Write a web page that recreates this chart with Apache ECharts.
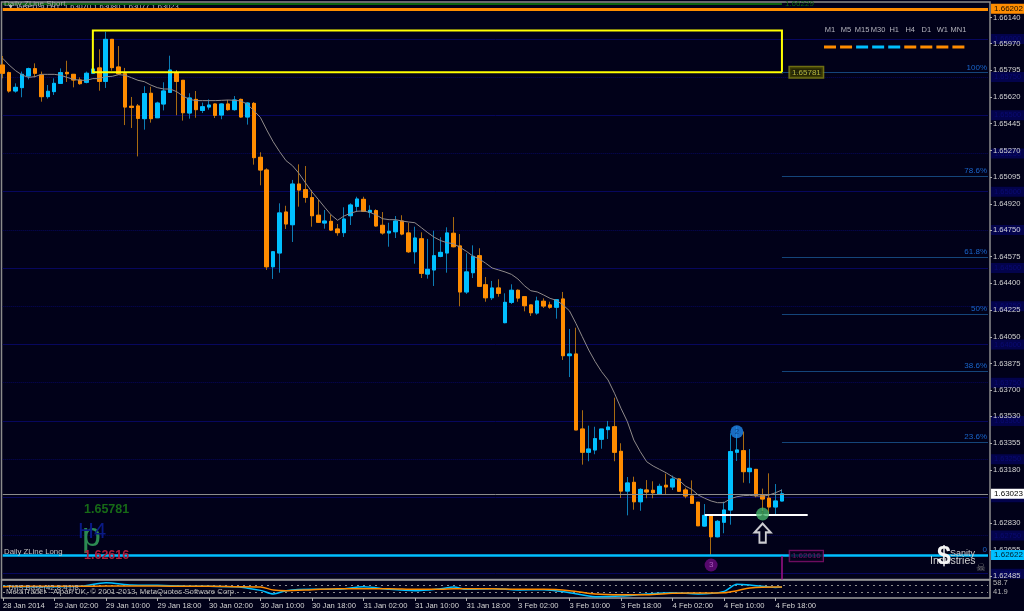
<!DOCTYPE html>
<html>
<head>
<meta charset="utf-8">
<style>html,body{margin:0;padding:0;background:#010119}#c{width:1024px;height:611px}</style>
<script src="https://cdn.jsdelivr.net/npm/echarts@6/dist/echarts.min.js"></script>
</head>
<body>
<div id="c"></div>
<script>
const axisLabels = ['28 Jan 2014','29 Jan 02:00','29 Jan 10:00','29 Jan 18:00','30 Jan 02:00','30 Jan 10:00','30 Jan 18:00','31 Jan 02:00','31 Jan 10:00','31 Jan 18:00','3 Feb 02:00','3 Feb 10:00','3 Feb 18:00','4 Feb 02:00','4 Feb 10:00','4 Feb 18:00'];
const opens = [1.65829,1.65779,1.65659,1.65681,1.65757,1.65805,1.65764,1.65622,1.65655,1.65709,
1.65781,1.65768,1.65731,1.65716,1.65775,1.65810,1.65722,1.65997,1.65816,1.65772,
1.65559,1.65561,1.65478,1.65644,1.65484,1.65574,1.65650,1.65779,1.65729,1.65515,
1.65604,1.65532,1.65554,1.65574,1.65502,1.65574,1.65537,1.65604,1.65489,1.65578,
1.65225,1.65142,1.64509,1.64599,1.64867,1.64784,1.65050,1.65013,1.64961,1.64846,
1.64795,1.64806,1.64756,1.64732,1.64843,1.64904,1.64950,1.64865,1.64876,1.64780,
1.64730,1.64738,1.64808,1.64730,1.64607,1.64692,1.64461,1.64488,1.64577,1.64599,
1.64728,1.64645,1.64344,1.64470,1.64581,1.64391,1.64306,1.64370,1.64143,1.64276,
1.64355,1.64313,1.64259,1.64206,1.64283,1.64259,1.64244,1.64298,1.63927,1.63938,
1.63447,1.63295,1.63310,1.63380,1.63443,1.63462,1.63301,1.63041,1.63098,1.62971,
1.63048,1.63046,1.63020,1.63079,1.63068,1.63120,1.63048,1.63009,1.62968,1.62812,
1.62882,1.62742,1.62837,1.62917,1.63295,1.63305,1.63168,1.63183,1.63011,1.62994,
1.62937,1.62976];
const closes = [1.65775,1.65659,1.65683,1.65768,1.65805,1.65775,1.65622,1.65657,1.65709,1.65779,
1.65772,1.65731,1.65707,1.65775,1.65803,1.65722,1.65997,1.65812,1.65772,1.65554,
1.65552,1.65480,1.65642,1.65478,1.65580,1.65659,1.65796,1.65722,1.65517,1.65613,
1.65537,1.65556,1.65567,1.65500,1.65574,1.65537,1.65600,1.65489,1.65580,1.65223,
1.65142,1.64509,1.64607,1.64861,1.64789,1.65050,1.65011,1.64963,1.64843,1.64800,
1.64808,1.64749,1.64732,1.64821,1.64913,1.64952,1.64872,1.64878,1.64776,1.64730,
1.64741,1.64808,1.64723,1.64607,1.64697,1.64466,1.64492,1.64581,1.64603,1.64730,
1.64640,1.64344,1.64475,1.64577,1.64381,1.64306,1.64370,1.64335,1.64276,1.64355,
1.64304,1.64254,1.64208,1.64285,1.64252,1.64244,1.64293,1.63927,1.63938,1.63441,
1.63295,1.63316,1.63384,1.63447,1.63460,1.63295,1.63041,1.63094,1.62971,1.63052,
1.63035,1.63030,1.63072,1.63068,1.63120,1.63040,1.63009,1.62961,1.62814,1.62882,
1.62742,1.62843,1.62917,1.63299,1.63310,1.63168,1.63190,1.63011,1.62989,1.62937,
1.62976,1.63023];
const highs = [1.65888,1.65786,1.65709,1.65786,1.65812,1.65840,1.65786,1.65698,1.65742,1.65807,
1.65857,1.65770,1.65748,1.65786,1.65818,1.65932,1.66047,1.65997,1.65953,1.65810,
1.65620,1.65574,1.65690,1.65687,1.65589,1.65716,1.65890,1.65796,1.65731,1.65644,
1.65659,1.65583,1.65604,1.65578,1.65578,1.65600,1.65626,1.65609,1.65585,1.65587,
1.65258,1.65153,1.64612,1.64924,1.64908,1.65077,1.65179,1.65168,1.65011,1.64948,
1.64880,1.64848,1.64789,1.64898,1.64924,1.64967,1.64967,1.64911,1.64885,1.64867,
1.64797,1.64841,1.64846,1.64797,1.64771,1.64734,1.64691,1.64745,1.64702,1.64767,
1.64834,1.64723,1.64597,1.64649,1.64630,1.64442,1.64416,1.64427,1.64335,1.64394,
1.64361,1.64317,1.64261,1.64313,1.64302,1.64280,1.64293,1.64344,1.64102,1.64110,
1.63570,1.63469,1.63462,1.63447,1.63500,1.63652,1.63354,1.63133,1.63135,1.63059,
1.63113,1.63105,1.63089,1.63155,1.63142,1.63125,1.63063,1.63111,1.62970,1.62956,
1.62884,1.62852,1.62971,1.63419,1.63462,1.63430,1.63316,1.63183,1.63057,1.63157,
1.63087,1.63052];
const lows = [1.65742,1.65648,1.65648,1.65618,1.65735,1.65748,1.65589,1.65609,1.65633,1.65705,
1.65718,1.65683,1.65700,1.65709,1.65770,1.65661,1.65679,1.65792,1.65764,1.65436,
1.65417,1.65231,1.65406,1.65452,1.65482,1.65532,1.65648,1.65500,1.65465,1.65478,
1.65484,1.65515,1.65537,1.65482,1.65474,1.65530,1.65530,1.65484,1.65439,1.65177,
1.65042,1.64488,1.64429,1.64470,1.64756,1.64671,1.64902,1.64928,1.64771,1.64797,
1.64758,1.64743,1.64712,1.64704,1.64782,1.64867,1.64867,1.64830,1.64771,1.64719,
1.64640,1.64697,1.64715,1.64599,1.64529,1.64435,1.64431,1.64383,1.64571,1.64470,
1.64636,1.64250,1.64331,1.64435,1.64378,1.64280,1.64291,1.64313,1.64139,1.64265,
1.64280,1.64217,1.64187,1.64195,1.64239,1.64234,1.64169,1.63899,1.63787,1.63441,
1.63214,1.63236,1.63282,1.63318,1.63382,1.63236,1.62996,1.62882,1.62919,1.62912,
1.62994,1.62994,1.63015,1.63020,1.63048,1.63035,1.62994,1.62958,1.62812,1.62808,
1.62616,1.62738,1.62765,1.62821,1.63238,1.63096,1.63092,1.63000,1.62884,1.62884,
1.62884,1.62974];
const movingAvg = [1.65873,1.65829,1.65792,1.65764,1.65748,1.65753,1.65768,1.65768,1.65768,1.65762,
1.65748,1.65735,1.65729,1.65729,1.65740,1.65740,1.65753,1.65755,1.65766,1.65762,
1.65746,1.65729,1.65720,1.65698,1.65681,1.65672,1.65672,1.65655,1.65626,1.65604,
1.65596,1.65596,1.65596,1.65596,1.65598,1.65600,1.65598,1.65594,1.65572,1.65530,
1.65487,1.65404,1.65327,1.65262,1.65203,1.65170,1.65120,1.65059,1.65000,1.64950,
1.64898,1.64848,1.64813,1.64841,1.64859,1.64872,1.64874,1.64865,1.64848,1.64823,
1.64817,1.64817,1.64808,1.64802,1.64797,1.64765,1.64732,1.64702,1.64680,1.64666,
1.64660,1.64636,1.64610,1.64579,1.64560,1.64532,1.64501,1.64488,1.64475,1.64459,
1.64429,1.64385,1.64352,1.64344,1.64324,1.64302,1.64289,1.64259,1.64221,1.64139,
1.64051,1.63964,1.63888,1.63822,1.63768,1.63681,1.63583,1.63495,1.63375,1.63299,
1.63233,1.63205,1.63183,1.63161,1.63135,1.63113,1.63074,1.63052,1.63015,1.62994,
1.62976,1.62965,1.62965,1.62991,1.63004,1.63011,1.63013,1.63009,1.63007,1.63015,
1.63030,1.63048];
const oscBars = [0,4,8,12,16,20,24,28,32,36,40,42,44,48,52,56,60,64,68,70,72,76,80,84,88,92,96,100,104,108,112,114,116,120,121];
const oscBlue = [52,51.4,51.4,52,59.3,54.7,54,52.7,52,51.4,44.1,36.9,43.5,46.1,46.1,51.4,46.1,43.5,47.4,50.7,46.1,47.4,44.8,45.4,39.5,31.6,32.9,36.9,39.5,36.9,42.1,56,54.7,50,50.7];
const oscOrange = [51.4,52,52,52,52.7,52.7,52.7,52,52,51.4,50.7,44.8,43.5,45.4,47.4,47.4,47.4,46.1,46.1,47.4,47.4,47.4,46.1,46.1,43.5,36.9,35.5,35.5,38.2,38.8,39.5,43.5,48.7,50.7,50.7];
const priceTicks = [1.66140,1.65970,1.65795,1.65620,1.65445,1.65270,1.65095,1.64920,1.64750,1.64575,1.64400,1.64225,1.64050,1.63875,1.63700,1.63530,1.63355,1.63180,1.62830,1.62655,1.62485];
const gridSolid = [1.66,1.655,1.65,1.645,1.64,1.635,1.63,1.625];
const gridDotted = [1.6575,1.6525,1.6475,1.6425,1.6375,1.6325,1.6275];
const fibPrices = [1.65781,1.65104,1.64572,1.64199,1.63825,1.63363,1.62622];
const fibNames = ['100%','78.6%','61.8%','50%','38.6%','23.6%','0'];
const timeframes = ['M1','M5','M15','M30','H1','H4','D1','W1','MN1'];
const tfColors = ['#ff8c00','#ff8c00','#00bfff','#00bfff','#00bfff','#ff8c00','#ff8c00','#ff8c00','#ff8c00'];

const FONT = '"Liberation Sans", Arial, sans-serif';
const BG = '#010119', ORANGE = '#ff8c00', BLUE = '#00bfff';
const BARS = 154, STEP = 6.44, GL = 2.7, GW = (BARS - 1) * STEP;
const Y_MIN = 1.624623, Y_MAX = 1.662414;
const cats = Array.from({length: BARS}, (_, i) => (i % 8 === 0 && axisLabels[i / 8]) || '');
const wickData = opens.map((o, i) => [o, closes[i], lows[i], highs[i]]);
const bodyData = opens.map((o, i) => [o, closes[i], Math.min(o, closes[i]), Math.max(o, closes[i])]);
const onAxis = i => i <= 120 && i % 8 === 0;

const hLine = (v, color, width, type) => ({yAxis: v, lineStyle: {color, width, type: type || 'solid'}, label: {show: false}});
const gridTag = v => ({
  yAxis: v,
  lineStyle: {color: '#07075e', width: 1, type: gridDotted.includes(v) ? 'dotted' : 'solid'},
  label: {show: true, position: 'end', distance: 3, formatter: v.toFixed(5), color: '#0a0a72', backgroundColor: '#03034c', padding: [1, 3], fontSize: 7.5, fontFamily: FONT}
});
const priceTag = (v, bg, fg, text) => ({
  show: true, position: 'end', distance: 3, formatter: text || v.toFixed(5), color: fg, backgroundColor: bg, padding: [1, 3], fontSize: 8, fontFamily: FONT
});

const tfGraphics = [];
timeframes.forEach((t, k) => {
  tfGraphics.push({type: 'text', z: 10, x: 830 + 16.05 * k, y: 29.5, style: {text: t, fill: '#b4b4bc', font: '7.5px ' + FONT, textAlign: 'center', textVerticalAlign: 'middle'}});
  tfGraphics.push({type: 'rect', z: 10, shape: {x: 824 + 16.05 * k, y: 45.5, width: 12, height: 3}, style: {fill: tfColors[k]}});
});
const txt = (s, x, y, fill, font) => ({type: 'text', z: 10, x, y, style: {text: s, fill, font, textVerticalAlign: 'middle'}});

const option = {
  backgroundColor: BG,
  animation: false,
  title: {text: '\u25BC GBPUSD,H1  1.63070 1.63080 1.63077 1.63023', left: 7, top: 2.5, padding: 0, z: 2,
    textStyle: {color: '#c0c0c0', fontSize: 7.5, fontWeight: 'normal', fontFamily: FONT}},
  grid: [
    {left: GL, top: 2, width: GW, height: 577.5, show: false},
    {left: GL, top: 580, width: GW, height: 18, show: false},
    {left: 1.5, top: 2, width: 988.5, height: 577.5, show: true, borderColor: '#8c8c8c', borderWidth: 1.5, backgroundColor: 'transparent'},
    {left: 1.5, top: 580, width: 988.5, height: 18, show: true, borderColor: '#9a9a9a', borderWidth: 1.5, backgroundColor: 'transparent'}
  ],
  xAxis: [
    {type: 'category', gridIndex: 0, data: cats, boundaryGap: false, show: false},
    {type: 'category', gridIndex: 1, data: cats, boundaryGap: false,
      axisLine: {show: false},
      axisTick: {show: true, interval: onAxis, length: 3, inside: false, lineStyle: {color: '#b0b0b0'}},
      axisLabel: {show: true, interval: onAxis, align: 'left', margin: 4, color: '#d4d4d4', fontSize: 7.6, fontFamily: FONT, hideOverlap: false},
      splitLine: {show: false}}
  ],
  yAxis: [
    {type: 'value', gridIndex: 0, position: 'right', offset: 2, min: Y_MIN, max: Y_MAX, scale: true, z: 3,
      axisLine: {show: false},
      axisTick: {show: true, length: 2, customValues: priceTicks, lineStyle: {color: '#b0b0b0'}},
      axisLabel: {show: true, margin: 3, customValues: priceTicks, color: '#d4d4d4', fontSize: 7.6, fontFamily: FONT, formatter: v => v.toFixed(5)},
      splitLine: {show: false}},
    {type: 'value', gridIndex: 1, position: 'right', offset: 2, min: 29, max: 64.6,
      axisLine: {show: false},
      axisTick: {show: false},
      axisLabel: {show: true, margin: 3, customValues: [58.7, 41.9, 38.9], color: '#b8b8b8', fontSize: 7.6, fontFamily: FONT, formatter: v => v.toFixed(1)},
      splitLine: {show: false}}
  ],
  series: [
    {name: 'levels', type: 'line', xAxisIndex: 0, yAxisIndex: 0, data: [], z: 1, silent: true,
      markLine: {z: 1, symbol: 'none', silent: true, animation: false, precision: 6, data: gridSolid.concat(gridDotted).map(gridTag)}},
    {name: 'wicks', type: 'candlestick', xAxisIndex: 0, yAxisIndex: 0, data: wickData, barWidth: 4, z: 3, silent: true,
      itemStyle: {color: 'transparent', color0: 'transparent', borderColor: '#0c7cb4', borderColor0: '#a86a10', borderWidth: 1}},
    {name: 'bodies', type: 'candlestick', xAxisIndex: 0, yAxisIndex: 0, data: bodyData, barWidth: 4, z: 4, silent: true,
      itemStyle: {color: BLUE, color0: ORANGE, borderColor: BLUE, borderColor0: ORANGE, borderWidth: 1}},
    {name: 'ma', type: 'line', xAxisIndex: 0, yAxisIndex: 0, data: movingAvg, showSymbol: false, z: 5, silent: true,
      lineStyle: {color: '#8f8a8a', width: 1}},
    {name: 'overlay', type: 'line', xAxisIndex: 0, yAxisIndex: 0, data: [], z: 6, silent: true,
      markArea: {z: 6, silent: true, animation: false, itemStyle: {color: 'rgba(0,0,0,0)', borderColor: '#ffff00', borderWidth: 2},
        data: [[{coord: [14, 1.66055]}, {coord: [121, 1.65781]}]]},
      markLine: {z: 6, symbol: 'none', silent: true, animation: false, precision: 6, lineStyle: {type: 'solid'}, data: fibPrices.map((p, k) => [
        {coord: [121, p], lineStyle: {color: '#14457a', width: 1.2, type: 'solid'}, label: {show: true, position: 'insideEndTop', distance: 1, formatter: fibNames[k], color: '#1a66cc', fontSize: 8, fontFamily: FONT}},
        {coord: [153, p]}
      ]).concat([
        Object.assign(hLine(1.63023, '#8c8c8c', 1), {label: priceTag(1.63023, '#ffffff', '#000000')}),
        Object.assign(hLine(1.66197, ORANGE, 3), {label: priceTag(1.66202, ORANGE, '#1a0f00')}),
        Object.assign(hLine(1.62622, BLUE, 2.5), {label: priceTag(1.62622, BLUE, '#00202c')}),
        [{coord: [0, 1.66229], lineStyle: {color: '#0b640f', width: 2, type: 'solid'}, label: {show: true, position: 'end', distance: 3, formatter: '1.66229', color: '#0b640f', fontSize: 8, fontFamily: FONT}}, {coord: [121, 1.66229]}],
        [{coord: [109, 1.62884], lineStyle: {color: '#ffffff', width: 2, type: 'solid'}, label: {show: false}}, {coord: [125, 1.62884]}],
        [{coord: [121, 1.62616], lineStyle: {color: '#a0108a', width: 1.5, type: 'solid'}, label: {show: false}}, {coord: [121, Y_MIN]}]
      ])}},
    {name: 'tags', type: 'scatter', xAxisIndex: 0, yAxisIndex: 0, z: 8, silent: true, symbolSize: 1,
      itemStyle: {color: 'rgba(0,0,0,0)'},
      data: [
        {value: [122, 1.65781], label: {show: true, position: 'right', distance: 1, formatter: '1.65781', color: '#d8d84a', backgroundColor: '#2c2c00', borderColor: '#8a8a10', borderWidth: 1.5, padding: [1, 2], fontSize: 8, fontFamily: FONT}},
        {value: [122, 1.62616], label: {show: true, position: 'right', distance: 1, formatter: '1.62616', color: '#8a1070', backgroundColor: BG, borderColor: '#8a1070', borderWidth: 1.2, padding: [1, 2], fontSize: 8, fontFamily: FONT}}
      ]},
    {name: 'pivots', type: 'scatter', xAxisIndex: 0, yAxisIndex: 0, z: 9, silent: true, symbolSize: 13,
      label: {show: true, position: 'inside', fontSize: 8, fontFamily: FONT},
      data: [
        {value: [114, 1.63429], itemStyle: {color: '#2088ec'}, label: {formatter: '2', color: '#0a3a78'}},
        {value: [118, 1.62891], itemStyle: {color: '#46b46a'}, label: {formatter: '1', color: '#1f6a3a'}},
        {value: [110, 1.62557], itemStyle: {color: '#6a0a80'}, label: {formatter: '3', color: '#c070d0'}}
      ]},
    {name: 'arrow', type: 'scatter', xAxisIndex: 0, yAxisIndex: 0, z: 9, silent: true,
      symbol: 'path://M5 0 L10 5.5 L7 5.5 L7 12 L3 12 L3 5.5 L0 5.5 Z', symbolSize: [16, 19], symbolKeepAspect: false,
      itemStyle: {color: BG, borderColor: '#ffffff', borderWidth: 2},
      data: [[118, 1.62766]]},
    {name: 'oscLevels', type: 'line', xAxisIndex: 1, yAxisIndex: 1, data: [], z: 1, silent: true,
      markLine: {z: 1, symbol: 'none', silent: true, animation: false, precision: 3, label: {show: false},
        lineStyle: {color: '#8c8c8c', width: 1, type: [2, 4]}, data: [{yAxis: 54.7}, {yAxis: 40.9}]}},
    {name: 'oscBlue', type: 'line', xAxisIndex: 1, yAxisIndex: 1, showSymbol: false, z: 3, silent: true, smooth: 0.3,
      lineStyle: {color: BLUE, width: 1.5}, data: oscBars.map((b, i) => [b, oscBlue[i]])},
    {name: 'oscOrange', type: 'line', xAxisIndex: 1, yAxisIndex: 1, showSymbol: false, z: 4, silent: true, smooth: 0.3,
      lineStyle: {color: ORANGE, width: 1.5}, data: oscBars.map((b, i) => [b, oscOrange[i]])}
  ],
  graphic: {elements: tfGraphics.concat([
    txt('Daily ZLine Short', 4, 4, '#a8a8a8', '8px ' + FONT),
    txt('Daily ZLine Long', 4, 551.5, '#c4c4c4', '7.8px ' + FONT),
    txt('p', 82, 537, '#2c8a52', '34px ' + FONT),
    txt('H4', 78, 532, '#0a1a86', '22px ' + FONT),
    txt('1.65781', 84, 510, '#176a17', 'bold 12.5px ' + FONT),
    txt('1.62616', 84, 555.5, '#b01c3c', 'bold 12.5px ' + FONT),
    txt('TMS Base(42,8,41)8', 7, 588, '#b0b0b0', '7.8px ' + FONT),
    txt('MetaTrader - Alpari UK, \u00A9 2001-2013, MetaQuotes Software Corp.', 6, 591.5, '#b8b8b8', '7.8px ' + FONT),
    txt('Sanity', 950, 553.5, '#d0d0d0', '9px ' + FONT),
    txt('Industries', 930, 561.5, '#d0d0d0', '10.5px ' + FONT),
    txt('$', 937, 557, '#f4f4f4', 'bold 25px ' + FONT),
    txt('\u2620', 976, 568, '#7c7c7c', '11px "DejaVu Sans"')
  ])}
};
const chart = echarts.init(document.getElementById('c'), null, {renderer: 'canvas', width: 1024, height: 611});
chart.setOption(option);
</script>
</body>
</html>
